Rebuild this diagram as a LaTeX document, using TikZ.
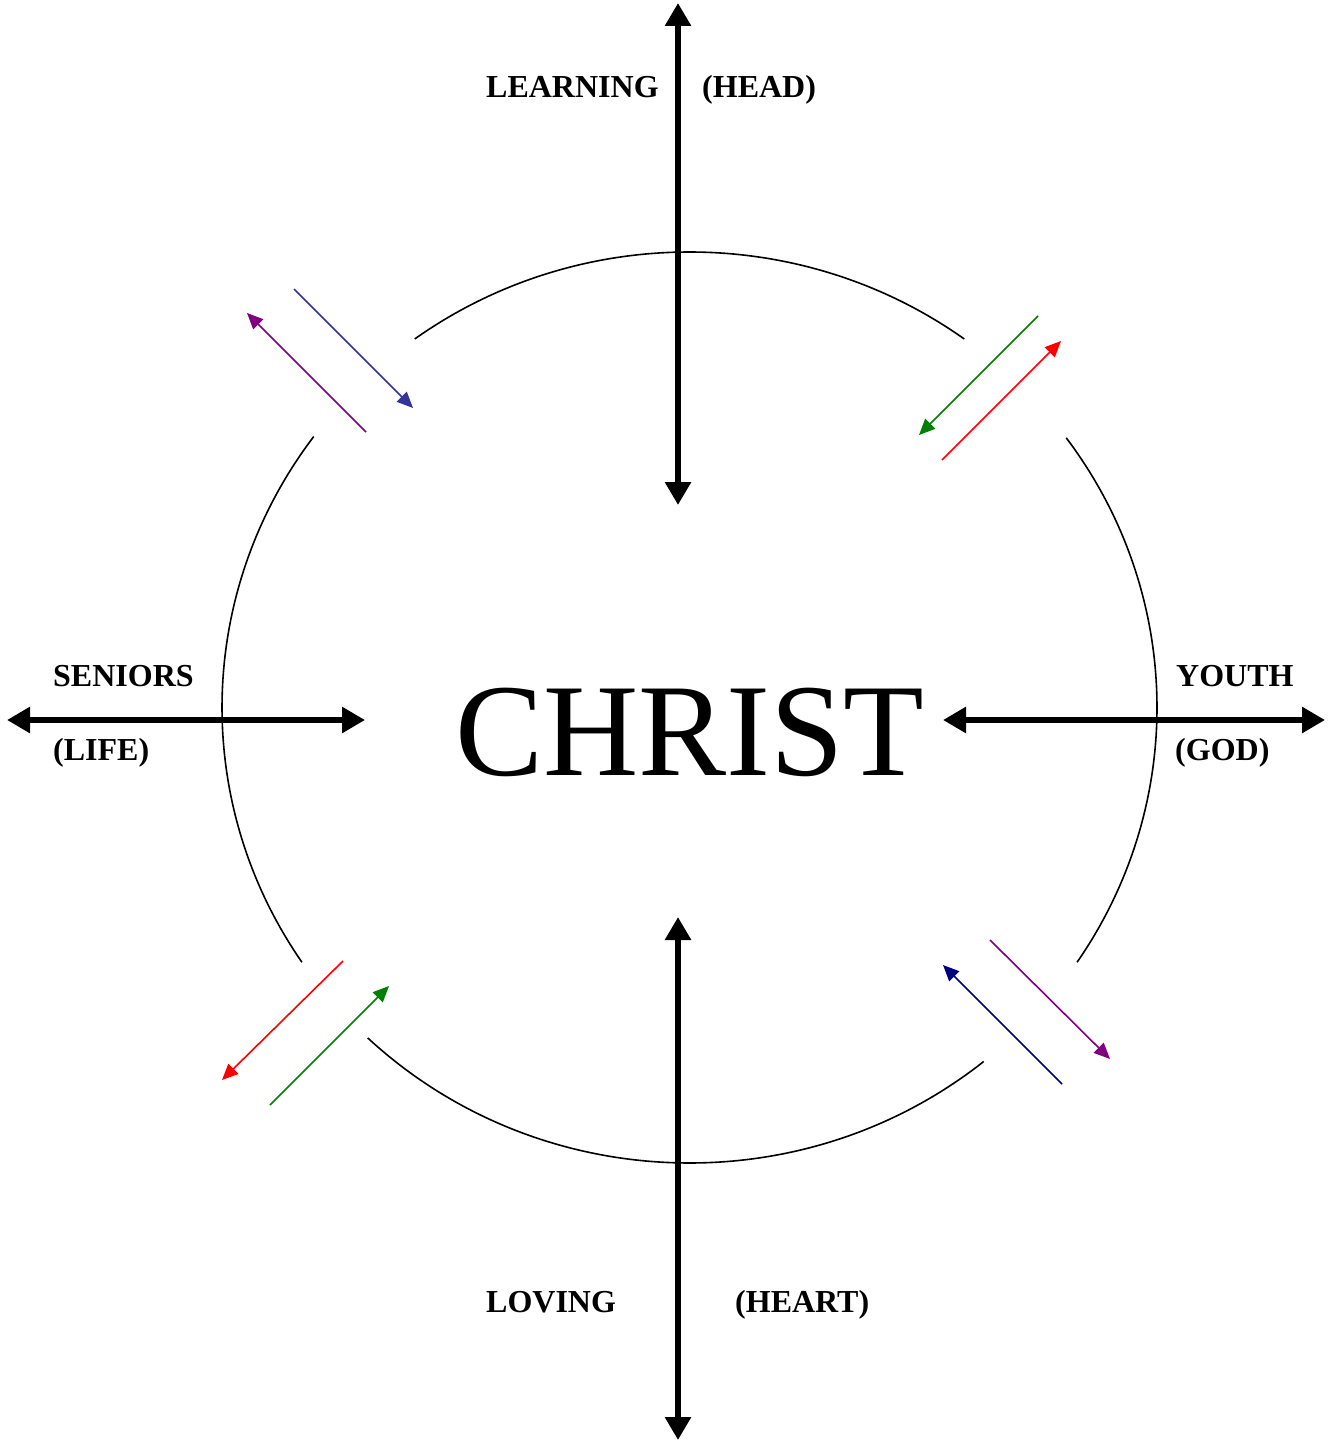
\documentclass[tikz,border=0pt]{standalone}
\usepackage{fontspec}
\setmainfont{Liberation Serif}
\usetikzlibrary{arrows.meta}
\definecolor{fpurple}{HTML}{800080}
\definecolor{fblue}{HTML}{333399}
\definecolor{fgreen}{HTML}{008000}
\definecolor{fred}{HTML}{FF0000}
\definecolor{fnavy}{HTML}{000080}
\tikzset{
  beam/.style={{Triangle[length=23pt,width=25pt]}-{Triangle[length=23pt,width=25pt]},
    line width=6.5pt},
  ring/.style={line width=1.6pt},
  flux/.style={-{Triangle[length=16pt,width=14pt]}, line width=1.6pt},
  tag/.style={font=\fontsize{32}{36}\selectfont\bfseries, anchor=base west,
    inner sep=0pt},
  hub/.style={font=\fontsize{132}{140}\selectfont, anchor=base west, inner sep=0pt},
}

\begin{document}
\begin{tikzpicture}[x=1pt, y=1pt]
\useasboundingbox (0,0) rectangle (1331,-1442);

%% ---- centre ------------------------------------------------------------
\coordinate (mid) at (689.5,-707.5);
\node[hub] (christ) at (455,-775) {CHRIST};

% ring, broken at the four diagonals
\foreach \a/\b in {54/126, 143.5/214, 226.5/309, -34/36.3}
  \draw[ring] (mid) ++(\a:467.5 and 455.5)
    arc[start angle=\a, end angle=\b, x radius=467.5pt, y radius=455.5pt];

%% ---- the four axes -----------------------------------------------------
\coordinate (north-out) at (678,-3);
\coordinate (north-in) at (678,-505);
\coordinate (south-in) at (678,-917);
\coordinate (south-out) at (678,-1440);
\coordinate (west-out) at (7,-720);
\coordinate (west-in) at (365,-720);
\coordinate (east-in) at (943,-720);
\coordinate (east-out) at (1325,-720);
\foreach \d in {north,south,west,east}
  \draw[beam] (\d-out) -- (\d-in);

\node[tag] (learning) at (486,-98) {LEARNING};
\node[tag] (head) at (702,-98) {(HEAD)};
\node[tag] (loving) at (486,-1312) {LOVING};
\node[tag] (heart) at (735,-1312) {(HEART)};
\node[tag] (seniors) at (53,-686) {SENIORS};
\node[tag] (life) at (53,-760) {(LIFE)};
\node[tag] (youth) at (1176,-686) {YOUTH};
\node[tag] (god) at (1175,-760) {(GOD)};

%% ---- paired flows on the diagonals --------------------------------------
\foreach \n/\c/\ax/\ay/\bx/\by in
    {nw1/fpurple/366/432/247/313, nw2/fblue/294/289/413/408,
     ne1/fgreen/1038/316/919/435, ne2/fred/942/460/1061/341,
     sw1/fred/343/961/222/1080,   sw2/fgreen/270/1105/389/986,
     se1/fnavy/1062/1084/943/965, se2/fpurple/990/940/1110/1059} {
  \coordinate (\n-from) at (\ax,-\ay);
  \coordinate (\n-to) at (\bx,-\by);
  \draw[flux, \c] (\n-from) -- (\n-to);
}

\end{tikzpicture}
\end{document}
